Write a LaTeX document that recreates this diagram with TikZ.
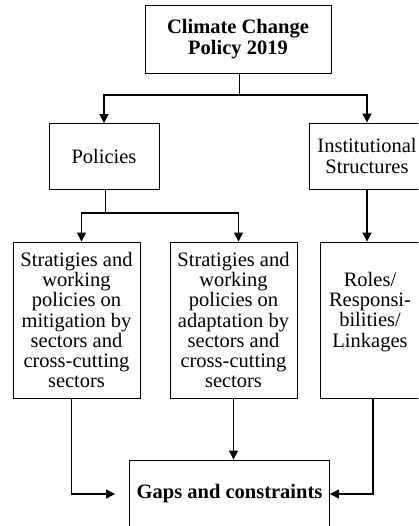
\documentclass[tikz,border=0pt]{standalone}
\usepackage{fontspec}
\setmainfont{Liberation Serif}
\usepackage{tikz}
\usetikzlibrary{arrows.meta, positioning, calc}

\begin{document}
\begin{tikzpicture}[x=1pt, y=1pt, font=\fontsize{20.5}{20.3}\selectfont,
        box/.style={draw, line width=0.9pt, align=center, inner sep=2pt},
        lnk/.style={line width=0.9pt},
        arr/.style={line width=1.3pt, -{Triangle[length=9pt, width=9pt]}}]
        \path[use as bounding box, clip] (0,0) rectangle (418,-526);
        \node[box, minimum width=186, minimum height=68, font=\fontsize{20.5}{21}\selectfont\bfseries] (top) at (238,-39) {Climate Change\\Policy 2019};
        \node[box, minimum width=110, minimum height=66] (pol)  at (104,-156.5) {Policies};
        \node[box, minimum width=116, minimum height=66] (inst) at (367,-156) {Institutional\\Structures};
        \node[box, minimum width=127, minimum height=156] (s1) at (76.5,-320) {Stratigies and\\working\\policies on\\mitigation by\\sectors and\\cross-cutting\\sectors};
        \node[box, minimum width=127, minimum height=156] (s2) at (233.5,-320) {Stratigies and\\working\\policies on\\adaptation by\\sectors and\\cross-cutting\\sectors};
        \node[box, minimum width=100, minimum height=156, text depth=21pt] (s3) at (370,-320) {Roles/\\Responsi-\\bilities/\\Linkages};
        \node[box, minimum width=200, minimum height=68, font=\fontsize{20.5}{21}\selectfont\bfseries] (gaps) at (229.5,-494) {Gaps and constraints};
        \coordinate (j1) at (239,-95);
        \coordinate (j2) at (105,-213);
        \draw[lnk] (j1 |- top.south) -- (j1);
        \draw[arr] (j1) -| (pol.north);
        \draw[arr] (j1) -| (inst.north);
        \draw[lnk] (j2 |- pol.south) -- (j2);
        \draw[arr] (j2) -| ([xshift=5pt]s1.north);
        \draw[arr] (j2) -| ([xshift=5pt]s2.north);
        \draw[arr] (inst.south) -- (inst.south |- s3.north);
        \draw[arr, shorten >=14pt] ([xshift=-5pt]s1.south) |- (gaps.west);
        \draw[arr] (s2.south) -- (s2.south |- gaps.north);
        \draw[arr] ([xshift=3pt]s3.south) |- (gaps.east);
\end{tikzpicture}
\end{document}
